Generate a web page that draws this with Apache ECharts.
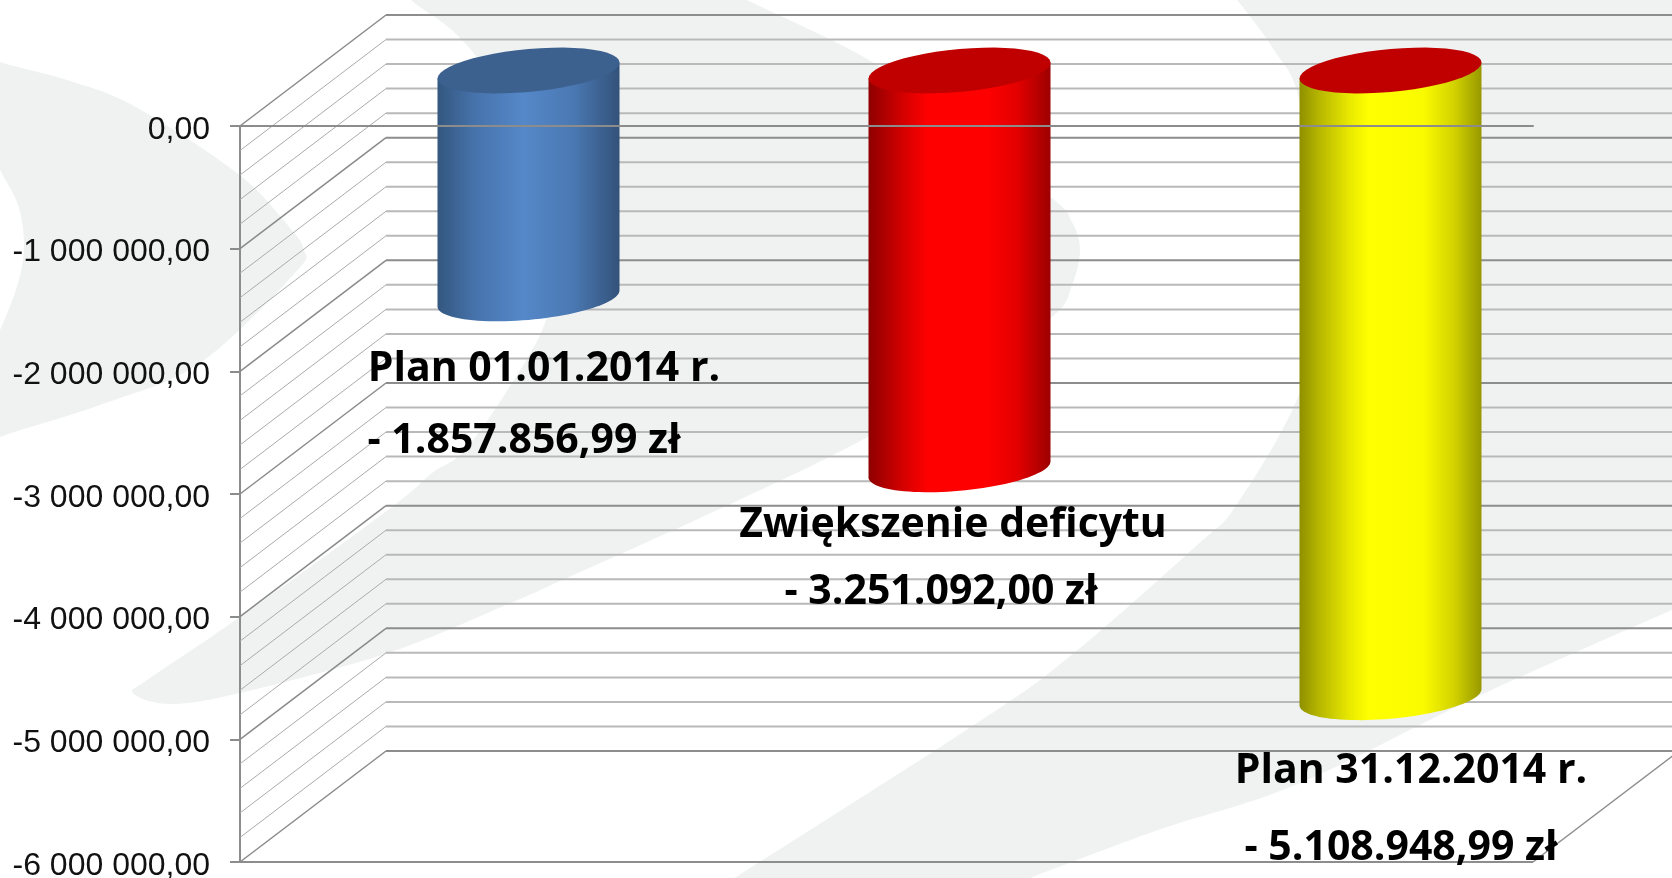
<!DOCTYPE html>
<html>
<head>
<meta charset="utf-8">
<title>Deficyt 2014</title>
<script src="https://cdn.jsdelivr.net/npm/echarts@6/dist/echarts.min.js"></script>
<style>
html,body{margin:0;padding:0;background:#fff;}
#chart{width:1672px;height:878px;}
</style>
</head>
<body>
<div id="chart"></div>
<script>
var categories = ['Plan 01.01.2014 r.', 'Zwiększenie deficytu', 'Plan 31.12.2014 r.'];
var planValues = [-1857856.99, -3251092.00, -5108948.99];
var amountLabels = ['- 1.857.856,99 zł', '- 3.251.092,00 zł', '- 5.108.948,99 zł'];
var wallLines = [
    0, -200000, -400000, -600000, -800000,
    -1000000, -1200000, -1400000, -1600000, -1800000,
    -2000000, -2200000, -2400000, -2600000, -2800000,
    -3000000, -3200000, -3400000, -3600000, -3800000,
    -4000000, -4200000, -4400000, -4600000, -4800000,
    -5000000, -5200000, -5400000, -5600000, -5800000,
    -6000000
];

// chart depth (the fake 3D look)
var depthX = 146;
var depthY = 111;
var barRatio = 0.4223;

var bodyColors = [
    [[0, '#33577f'], [0.2, '#4672aa'], [0.47, '#5588c9'], [0.75, '#4a78b2'], [1, '#33527a']],
    [[0, '#8e0000'], [0.2, '#d80000'], [0.33, '#ff0000'], [0.65, '#ff0000'], [0.82, '#e20000'], [1, '#9c0000']],
    [[0, '#8f8f00'], [0.1, '#b4b400'], [0.28, '#eaea00'], [0.38, '#ffff00'], [0.68, '#fbfb00'], [0.85, '#d2d200'], [1, '#989800']]
];
var capColors = ['#3d618f', '#c00000', '#c00000'];

// background swooshes of the slide
var bgLeft = [[-60,40],[0,62],[67,80],[134,106],[237,173],[285,222],[304,250],[295,273],[200,363],[100,405],[0,437],[-60,465],[-20,370],[0,330],[18,283],[24,245],[18,205],[0,170],[-20,130]];
var bgMiddle = [[390,-25],[411,0],[455,33],[489,77],[530,170],[556,250],[546,320],[512,383],[465,450],[432,473],[388,510],[240,617],[150,678],[133,693],[170,704],[240,693],[388,653],[506,605],[569,577],[724,507],[862,440],[960,378],[1052,317],[1072,285],[1080,250],[1072,222],[1052,198],[960,130],[874,63],[747,0],[697,-25]];
var bgRight = [[1200,-40],[1237,0],[1274,50],[1298,95],[1312,200],[1312,300],[1300,392],[1237,504],[1195,547],[1069,657],[977,723],[736,877],[650,932],[940,911],[1040,874],[1161,829],[1298,784],[1483,694],[1672,610],[1740,580],[1740,-60]];

function fmtTick(value){
    var s = Math.abs(value).toFixed(2).replace('.', ',');
    s = s.replace(/\B(?=(\d{3})+(?!\d))/g, ' ');
    return (value < 0 ? '-' : '') + s;
}

// closed catmull-rom through the outline points
function smoothOutline(pts){
    var out = [];
    var n = pts.length;
    for(var i=0;i<n;i++){
        var p0 = pts[(i-1+n)%n], p1 = pts[i], p2 = pts[(i+1)%n], p3 = pts[(i+2)%n];
        for(var k=0;k<12;k++){
            var t = k/12, t2 = t*t, t3 = t2*t;
            out.push([
                0.5*(2*p1[0] + (p2[0]-p0[0])*t + (2*p0[0]-5*p1[0]+4*p2[0]-p3[0])*t2 + (3*p1[0]-p0[0]-3*p2[0]+p3[0])*t3),
                0.5*(2*p1[1] + (p2[1]-p0[1])*t + (2*p0[1]-5*p1[1]+4*p2[1]-p3[1])*t2 + (3*p1[1]-p0[1]-3*p2[1]+p3[1])*t3)
            ]);
        }
    }
    return out;
}

// one wall line: slanted on the side wall, flat on the back wall
function renderWall(params, api){
    var value = api.value(0);
    var major = value % 1000000 === 0;
    var sys = params.coordSys;
    var y = api.coord([0, value])[1];
    var left = sys.x;
    var right = sys.x + sys.width;
    var color = major ? '#8d8d8d' : '#b9b9b9';
    var children = [
        {type:'line', shape:{x1:left, y1:y, x2:left+depthX, y2:y-depthY}, style:{stroke: major ? '#8a8a8a' : '#ababab', lineWidth: major ? 1.5 : 1}},
        {type:'line', shape:{x1:left+depthX, y1:y-depthY, x2:right+depthX, y2:y-depthY}, style:{stroke:color, lineWidth:2}}
    ];
    if(value === -6000000){
        children.push({type:'line', shape:{x1:left, y1:y, x2:right, y2:y}, style:{stroke:'#8d8d8d', lineWidth:2}});
        children.push({type:'line', shape:{x1:right, y1:y, x2:right+depthX, y2:y-depthY}, style:{stroke:'#8d8d8d', lineWidth:1.5}});
    }
    return {type:'group', children:children};
}

function ellipsePoints(cx, cy, rx, from, to){
    var pts = [];
    var n = 48;
    for(var i=0;i<=n;i++){
        var t = from + (to-from)*i/n;
        pts.push([cx + rx*Math.cos(t), cy - 8*Math.cos(t) + 21.5*Math.sin(t)]);
    }
    return pts;
}

// cylinder bar drawn from the axis scales
function renderBar(params, api){
    var idx = api.value(0);
    var base = api.coord([idx, 0]);
    var end = api.coord([idx, api.value(1)]);
    var band = api.size([1, 0])[0];
    var rx = band*barRatio/2;
    var cx = base[0] + depthX/2;
    var yTop = base[1] - depthY/2;
    var yEnd = end[1] - depthY/2;

    var body = [[cx-rx, yTop+8]].concat(ellipsePoints(cx, yEnd, rx, Math.PI, 0));
    body.push([cx+rx, yTop-8]);
    return {
        type:'group',
        children:[
            {type:'polygon', shape:{points:body}, style:{
                fill:new echarts.graphic.LinearGradient(0,0,1,0,bodyColors[idx].map(function(c){return {offset:c[0],color:c[1]};}))
            }},
            {type:'polygon', shape:{points:ellipsePoints(cx, yTop, rx, 0, Math.PI*2)}, style:{fill:capColors[idx]}}
        ]
    };
}

var titlePos = [[544,369],[953,525],[1411,771]];
var amountPos = [[524,441],[941,592],[1401,848]];
var labelFont = '700 41px "Open Sans", "Noto Sans", sans-serif';

var graphics = [
    {type:'polygon', z:-10, silent:true, shape:{points:smoothOutline(bgLeft)}, style:{fill:'#f0f2f2'}},
    {type:'polygon', z:-10, silent:true, shape:{points:smoothOutline(bgMiddle)}, style:{fill:'#f0f2f2'}},
    {type:'polygon', z:-10, silent:true, shape:{points:smoothOutline(bgRight)}, style:{fill:'#f0f2f2'}}
];
categories.forEach(function(name, i){
    graphics.push({type:'text', z:100, x:titlePos[i][0], y:titlePos[i][1], style:{text:name, font:labelFont, fill:'#000', align:'center', verticalAlign:'middle'}});
    graphics.push({type:'text', z:100, x:amountPos[i][0], y:amountPos[i][1], style:{text:amountLabels[i], font:labelFont, fill:'#000', align:'center', verticalAlign:'middle'}});
});

var chart = echarts.init(document.getElementById('chart'));
chart.setOption({
    animation:false,
    backgroundColor:'#ffffff',
    graphic:graphics,
    grid:{left:240, right:139, top:126, height:736, containLabel:false, outerBoundsMode:'none'},
    xAxis:{
        type:'category',
        data:categories,
        z:5,
        axisTick:{show:false},
        axisLabel:{show:false},
        axisLine:{onZero:true, lineStyle:{color:'#8c8c8c', width:2}}
    },
    yAxis:{
        type:'value',
        min:-6000000,
        max:0,
        interval:1000000,
        splitLine:{show:false},
        axisLine:{show:true, lineStyle:{color:'#8c8c8c', width:2}},
        axisTick:{show:true, length:10, lineStyle:{color:'#8c8c8c', width:2}},
        axisLabel:{
            margin:30,
            color:'#111',
            fontFamily:'"Liberation Sans", Arial, sans-serif',
            fontSize:32,
            verticalAlign:'top',
            lineHeight:32,
            padding:[-12,0,0,0],
            formatter:fmtTick
        }
    },
    series:[
        {
            type:'custom',
            name:'wall',
            z:1,
            silent:true,
            renderItem:renderWall,
            encode:{y:0},
            data:wallLines.map(function(v){return [v];})
        },
        {
            type:'custom',
            name:'plan',
            z:3,
            renderItem:renderBar,
            encode:{x:0, y:1},
            data:planValues.map(function(v,i){return [i, v];})
        }
    ]
});
</script>
</body>
</html>
